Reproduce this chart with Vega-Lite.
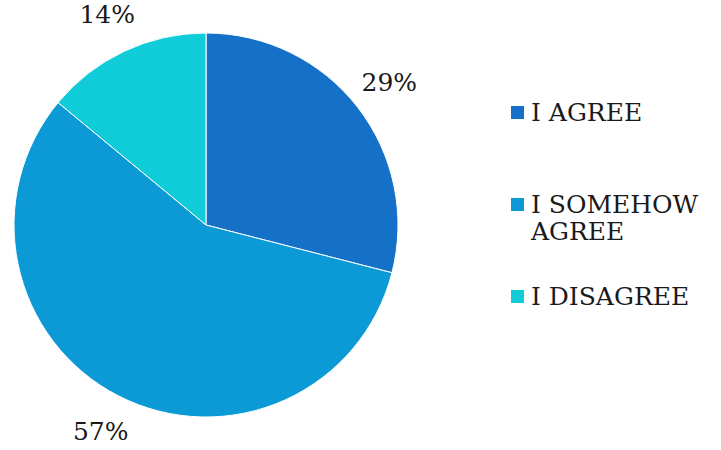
{
  "$schema": "https://vega.github.io/schema/vega-lite/v6.json",
  "width": 412,
  "height": 450,
  "padding": 0,
  "background": "white",
  "data": {"values": [
    {"category": "I AGREE", "value": 29, "label": "29%", "order": 1},
    {"category": "I SOMEHOW AGREE", "value": 57, "label": "57%", "order": 2},
    {"category": "I DISAGREE", "value": 14, "label": "14%", "order": 3}
  ]},
  "encoding": {
    "theta": {"field": "value", "type": "quantitative", "stack": true},
    "order": {"field": "order", "type": "quantitative"}
  },
  "layer": [
    {
      "mark": {"type": "arc", "outerRadius": 192, "stroke": "white", "strokeWidth": 1},
      "encoding": {
        "color": {
          "field": "category",
          "type": "nominal",
          "sort": ["I AGREE", "I SOMEHOW AGREE", "I DISAGREE"],
          "scale": {"domain": ["I AGREE", "I SOMEHOW AGREE", "I DISAGREE"], "range": ["#1570c8", "#0b9ad6", "#10ccd8"]},
          "legend": {
            "title": null,
            "orient": "none",
            "legendX": 505,
            "legendY": 100,
            "padding": 0,
            "symbolType": "square",
            "symbolSize": 169,
            "symbolStrokeWidth": 0,
            "labelFont": "DejaVu Serif",
            "labelFontSize": 25,
            "labelColor": "#1a1a1a",
            "labelOffset": 1,
            "labelLimit": 300,
            "rowPadding": 39,
            "labelLineHeight": 36,
            "labelExpr": "datum.label == 'I SOMEHOW AGREE' ? ['I SOMEHOW', 'AGREE'] : [datum.label, ' ']",
            "encode": {"labels": {"update": {"lineHeight": {"value": 36}}}}
          }
        }
      }
    },
    {
      "mark": {"type": "text", "radius": 232, "font": "DejaVu Serif", "fontSize": 25, "color": "#1a1a1a"},
      "encoding": {"text": {"field": "label", "type": "nominal"}}
    }
  ]
}
